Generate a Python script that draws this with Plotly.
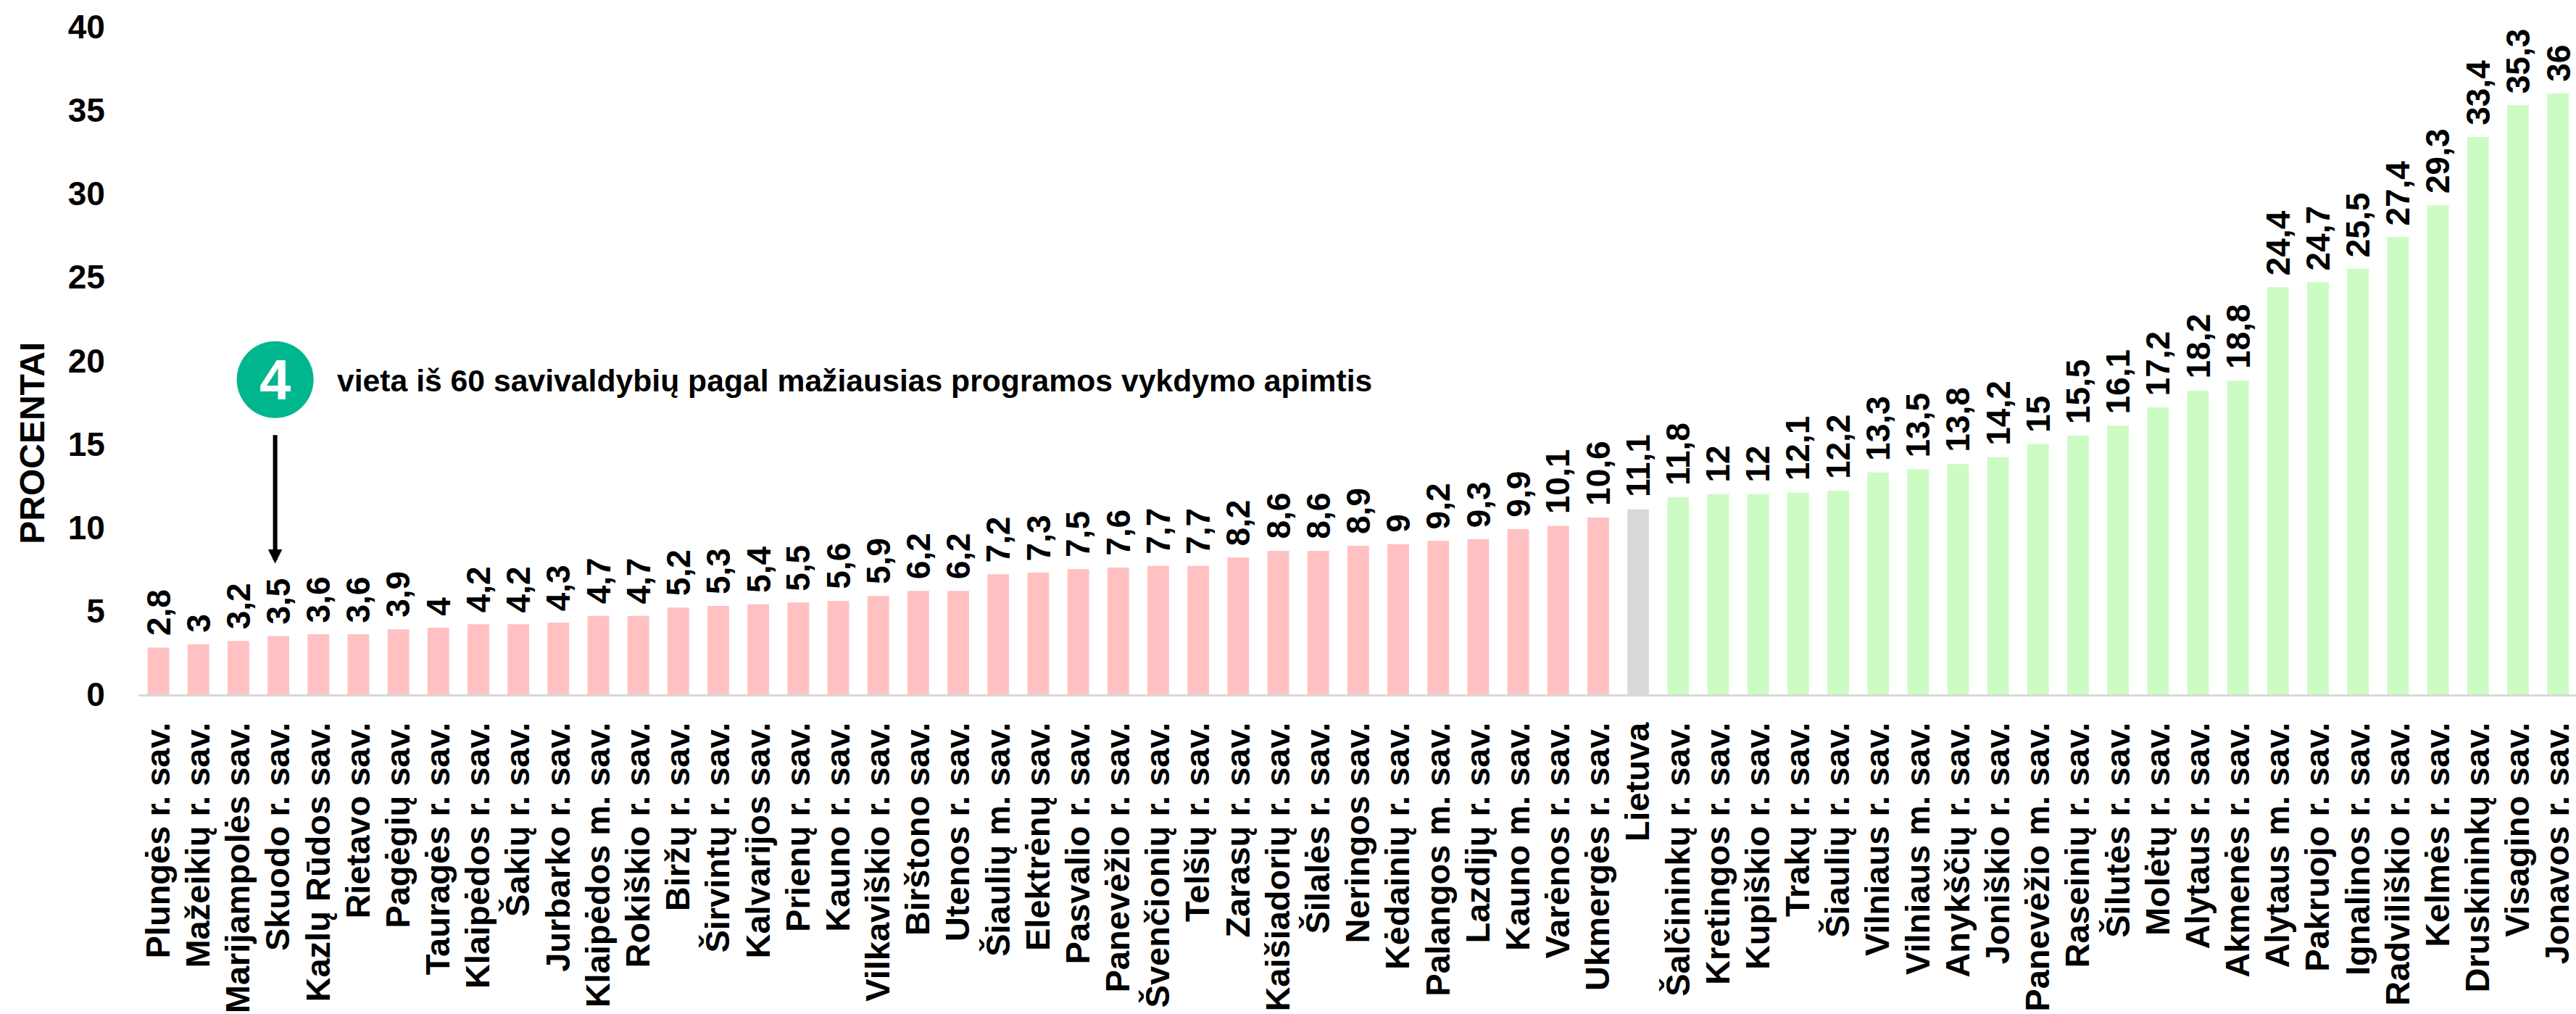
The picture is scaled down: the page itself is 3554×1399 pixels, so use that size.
import plotly.graph_objects as go

categories = ["Plungės r. sav.","Mažeikių r. sav.","Marijampolės sav.","Skuodo r. sav.","Kazlų Rūdos sav.","Rietavo sav.","Pagėgių sav.","Tauragės r. sav.","Klaipėdos r. sav.","Šakių r. sav.","Jurbarko r. sav.","Klaipėdos m. sav.","Rokiškio r. sav.","Biržų r. sav.","Širvintų r. sav.","Kalvarijos sav.","Prienų r. sav.","Kauno r. sav.","Vilkaviškio r. sav.","Birštono sav.","Utenos r. sav.","Šiaulių m. sav.","Elektrėnų sav.","Pasvalio r. sav.","Panevėžio r. sav.","Švenčionių r. sav.","Telšių r. sav.","Zarasų r. sav.","Kaišiadorių r. sav.","Šilalės r. sav.","Neringos sav.","Kėdainių r. sav.","Palangos m. sav.","Lazdijų r. sav.","Kauno m. sav.","Varėnos r. sav.","Ukmergės r. sav.","Lietuva","Šalčininkų r. sav.","Kretingos r. sav.","Kupiškio r. sav.","Trakų r. sav.","Šiaulių r. sav.","Vilniaus r. sav.","Vilniaus m. sav.","Anykščių r. sav.","Joniškio r. sav.","Panevėžio m. sav.","Raseinių r. sav.","Šilutės r. sav.","Molėtų r. sav.","Alytaus r. sav.","Akmenės r. sav.","Alytaus m. sav.","Pakruojo r. sav.","Ignalinos r. sav.","Radviliškio r. sav.","Kelmės r. sav.","Druskininkų sav.","Visagino sav.","Jonavos r. sav."]
values = [2.8,3,3.2,3.5,3.6,3.6,3.9,4,4.2,4.2,4.3,4.7,4.7,5.2,5.3,5.4,5.5,5.6,5.9,6.2,6.2,7.2,7.3,7.5,7.6,7.7,7.7,8.2,8.6,8.6,8.9,9,9.2,9.3,9.9,10.1,10.6,11.1,11.8,12,12,12.1,12.2,13.3,13.5,13.8,14.2,15,15.5,16.1,17.2,18.2,18.8,24.4,24.7,25.5,27.4,29.3,33.4,35.3,36]
y_ticks = [0,5,10,15,20,25,30,35,40]

PINK, GREY, GREEN = "#FFC1C1", "#D9D9D9", "#CCFCC4"
W, H = 3554, 1399
L, B, T = 191.4, H - 958.5, 37
STEP = 55.17
x_max = (W - L) / STEP - 0.5
FONT = "Liberation Sans, Arial, sans-serif"

colors = [GREY if c == "Lietuva" else (PINK if i < categories.index("Lietuva") else GREEN)
          for i, c in enumerate(categories)]

fig = go.Figure(go.Bar(x=list(range(len(categories))), y=values, marker=dict(color=colors, line_width=0),
                       width=0.54, showlegend=False, cliponaxis=False))

for i, v in enumerate(values):
    fig.add_annotation(x=i, y=v, text="<b>" + f"{v:g}".replace(".", ",") + "</b>", textangle=-90, showarrow=False,
                       xanchor="center", yanchor="bottom", yshift=14, font=dict(size=46, color="black", family=FONT))

px = lambda p: (p - L) / STEP - 0.5
py = lambda p: (958.5 - p) / (958.5 - 37) * 40

fig.add_shape(type="circle", xref="x", yref="y", x0=px(327), x1=px(433), y0=py(577), y1=py(471),
              fillcolor="#00B68F", line_width=0)
fig.add_annotation(x=px(380), y=py(524), text="<b>4</b>", showarrow=False, font=dict(size=78, color="white", family=FONT))
fig.add_annotation(x=px(463), y=py(525), xanchor="left", showarrow=False,
                   text="<b>vieta iš 60 savivaldybių pagal mažiausias programos vykdymo apimtis</b>",
                   font=dict(size=42.7, color="black", family=FONT))
fig.add_annotation(x=px(380), y=py(778), ax=px(380), ay=py(599), xref="x", yref="y", axref="x", ayref="y", text="",
                   showarrow=True, arrowhead=2, arrowsize=0.65, arrowwidth=6, arrowcolor="black")
fig.add_annotation(xref="paper", x=(45.5 - L) / (W - L), y=py(612), yref="y", text="<b>PROCENTAI</b>", textangle=-90,
                   xanchor="center", yanchor="middle", showarrow=False, font=dict(size=48, color="black", family=FONT))

fig.update_layout(
    width=W, height=H, autosize=False, paper_bgcolor="white", plot_bgcolor="white",
    margin=dict(l=L, r=0, t=T, b=B, pad=0), bargap=0.46,
    xaxis=dict(range=[-0.5, x_max], tickmode="array", tickvals=list(range(len(categories))), ticktext=categories,
               tickangle=-90, showgrid=False, zeroline=False, showline=True, linecolor="#D9D9D9", linewidth=3,
               ticks="outside", ticklen=17, tickcolor="rgba(0,0,0,0)", tickwidth=0, ticklabeloverflow="allow",
               tickfont=dict(size=47, color="black", family=FONT, weight="bold"), automargin=False),
    yaxis=dict(range=[0, 40], tickmode="array", tickvals=y_ticks, showgrid=False, zeroline=False, showline=False,
               ticks="outside", ticklen=36, tickcolor="rgba(0,0,0,0)", tickwidth=0,
               tickfont=dict(size=46, color="black", family=FONT, weight="bold"), automargin=False),
)
fig.write_html("out.html", config={"displayModeBar": False},
               post_script="document.body.style.margin='0';document.body.style.overflow='hidden';")
